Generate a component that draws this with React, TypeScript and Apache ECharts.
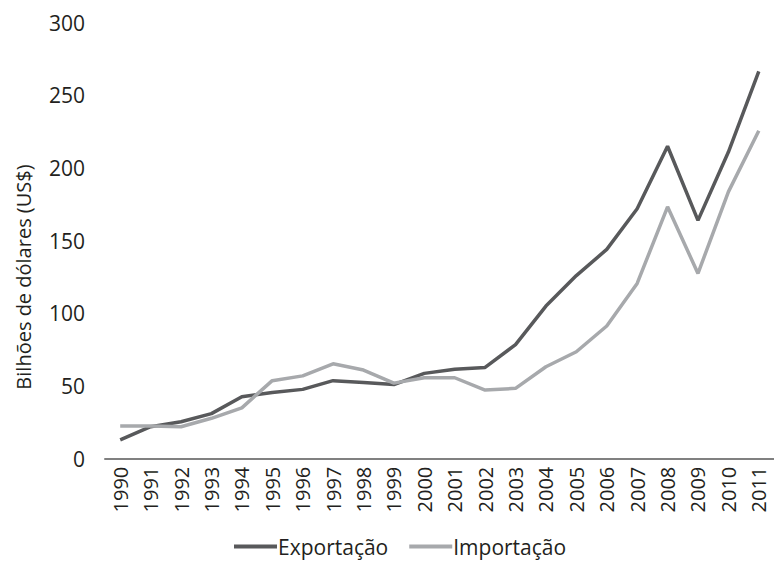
import React, { useEffect, useRef } from "react";
import * as echarts from "echarts";

const years = ["1990","1991","1992","1993","1994","1995","1996","1997","1998","1999","2000","2001","2002","2003","2004","2005","2006","2007","2008","2009","2010","2011"];
const exportacao = [13, 22, 25.4, 31, 42.6, 45.6, 47.7, 53.7, 52.5, 51, 58.7, 61.5, 62.8, 78.5, 105, 126, 144, 172, 215, 164, 211, 266.5];
const importacao = [22.5, 22.5, 22, 27.8, 35, 53.7, 57, 65.3, 61, 52, 55.7, 55.7, 47.2, 48.4, 63.3, 73.6, 91.3, 120.6, 173.3, 127.5, 183.6, 225.6];
const yTicks = { min: 0, max: 300, interval: 50 };

const FONT = "'Open Sans', 'Noto Sans', sans-serif";
const TEXT = "#231f20";

export default function App() {
  const ref = useRef<HTMLDivElement>(null);
  useEffect(() => {
    if (!ref.current) return;
    const chart = echarts.init(ref.current, null, { renderer: "svg" });
    chart.setOption({
      animation: false,
      textStyle: { fontFamily: FONT, color: TEXT },
      grid: { left: 105, top: 22.7, height: 436, width: 674, containLabel: false },
      xAxis: {
        type: "category",
        data: years,
        boundaryGap: true,
        axisLine: { lineStyle: { color: "#808080", width: 2 } },
        axisTick: { show: false },
        axisLabel: { rotate: 90, interval: 0, margin: 8, fontSize: 20, color: TEXT, fontFamily: FONT },
        splitLine: { show: false },
      },
      yAxis: {
        type: "value",
        min: yTicks.min,
        max: yTicks.max,
        interval: yTicks.interval,
        axisLine: { show: false },
        axisTick: { show: false },
        splitLine: { show: false },
        axisLabel: { fontSize: 21, color: TEXT, margin: 20, fontFamily: FONT },
      },
      legend: {
        top: 531,
        left: 229,
        icon: "rect",
        itemWidth: 43,
        itemHeight: 4,
        itemGap: 21,
        textStyle: { fontSize: 21, color: TEXT, fontFamily: FONT, padding: [0, 0, 0, -4] },
        data: ["Exportação", "Importação"],
      },
      graphic: [
        {
          type: "text",
          x: 23,
          y: 277,
          rotation: Math.PI / 2,
          style: {
            text: "Bilhões de dólares (US$)",
            fontSize: 20,
            fontFamily: FONT,
            fill: TEXT,
            textAlign: "center",
            textVerticalAlign: "middle",
          },
        },
      ],
      series: [
        {
          name: "Exportação",
          type: "line",
          data: exportacao,
          symbol: "none",
          lineStyle: { color: "#58595b", width: 3.5 },
          itemStyle: { color: "#58595b" },
        },
        {
          name: "Importação",
          type: "line",
          data: importacao,
          symbol: "none",
          lineStyle: { color: "#a7a9ac", width: 3.5 },
          itemStyle: { color: "#a7a9ac" },
        },
      ],
    });
    return () => chart.dispose();
  }, []);
  return (
    <div
      ref={ref}
      style={{ position: "fixed", left: 0, top: 0, width: 774, height: 567, background: "#fff" }}
    />
  );
}
